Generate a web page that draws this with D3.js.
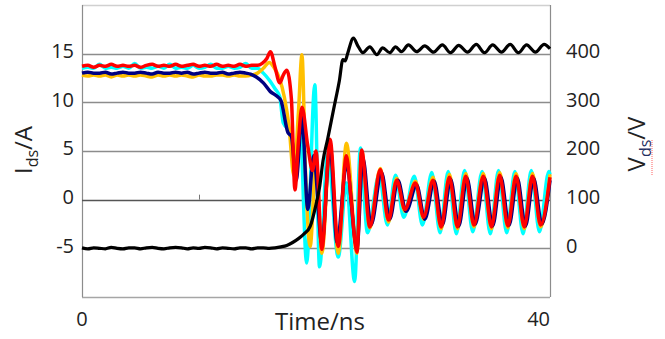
<!DOCTYPE html>
<html>
<head>
<meta charset="utf-8">
<script src="https://cdn.jsdelivr.net/npm/d3@7"></script>
<style>
  body { margin: 0; background: #fff; }
  svg { display: block; font-family: "Open Sans", sans-serif; }
</style>
</head>
<body>
<svg id="chart" width="665" height="339"></svg>
<script>
// axis ticks
const currentTicks = [-5, 0, 5, 10, 15];
const voltageTicks = [0, 100, 200, 300, 400];
const timeLabels = [0, 40];

// drain current traces, [time ns, Ids A]
const redTrace = [[0,13.7],[0.5,13.8],[1,13.6],[1.5,13.8],[2,13.7],[2.5,13.9],[3,13.7],[3.5,13.8],[4,13.7],[4.5,13.8],[5,13.6],[5.5,13.8],[6,13.9],[6.5,13.7],[7,13.8],[7.5,13.7],[8,13.9],[8.5,13.7],[9,13.8],[9.5,13.9],[10,13.7],[10.5,13.8],[11,13.7],[11.5,13.9],[12,13.7],[12.5,13.8],[13,13.7],[13.5,13.9],[14,13.7],[14.5,13.8],
  [15,13.8],[15.4,14.0],[15.8,14.5],[16.1,15.2],[16.5,13.6],[16.9,12.0],[17.2,12.8],[17.5,13.3],[17.9,10.3],[18.2,1.0],[18.5,6.0],[18.8,9.5],[19.3,5.5],[19.7,3.0],[20.0,5.0],[20.5,-5.1],[21.2,6.2],[21.9,-4.8],[22.6,4.5],[23.0,0.0],[23.5,-5.4],[23.9,5.1],[24.6,-2.8],[25.5,3.1],[26.2,-2.1],[26.9,2.0],[27.6,-1.0],[28.5,1.7],[29.2,-1.8],[30.0,2.0],[30.7,-2.8],[31.4,2.3],[32.1,-2.8],[32.8,2.4],[33.5,-2.6],[34.3,2.4],[35.0,-2.8],[35.7,2.5],[36.4,-2.7],[37.1,2.4],[37.8,-2.8],[38.5,2.4],[39.2,-2.6],[40.0,2.3]];

const cyanTrace = [[0,13.5],[0.5,13.6],[1,13.5],[1.5,13.9],[2,13.5],[2.5,13.6],[3,13.5],[3.5,13.7],[4,13.5],[4.5,14.0],[5,13.5],[5.5,13.6],[6,13.5],[6.5,13.7],[7,13.5],[7.5,13.9],[8,13.5],[8.5,13.6],[9,13.5],[9.5,13.8],[10,13.5],[10.5,13.6],[11,13.9],[11.5,13.5],[12,13.5],[12.5,13.7],[13,13.5],[13.5,13.6],[14,14.0],[14.5,13.5],
  [15.0,13.5],[15.5,13.0],[16.0,12.3],[16.5,11.4],[16.9,10.6],[17.2,7.9],[17.8,7.0],[18.3,4.0],[18.6,8.5],[19.2,-6.5],[19.9,11.8],[20.3,-6.9],[21.0,4.8],[21.9,-5.9],[22.6,1.7],[23.3,-8.4],[23.8,5.3],[24.4,-3.4],[25.4,2.6],[26.1,-2.6],[26.8,2.5],[27.5,-1.8],[28.4,2.4],[29.1,-2.6],[29.9,2.8],[30.6,-3.4],[31.3,2.9],[32.0,-3.5],[32.7,3.0],[33.4,-3.3],[34.2,2.9],[34.9,-3.5],[35.6,3.0],[36.3,-3.4],[37.0,2.9],[37.7,-3.5],[38.4,3.0],[39.1,-3.3],[39.9,2.9],[40,2.6]];

const yellowTrace = [[0,12.8],[0.5,12.7],[1,12.8],[1.5,12.7],[2,12.8],[2.5,12.6],[3,12.8],[3.5,12.7],[4,12.8],[4.5,12.7],[5,12.8],[5.5,12.7],[6,12.6],[6.5,12.8],[7,12.7],[7.5,12.8],[8,12.7],[8.5,12.8],[9,12.7],[9.5,12.6],[10,12.8],[10.5,12.7],[11,12.7],[11.5,12.8],[12,12.8],[12.5,12.7],[13,12.8],[13.5,12.7],[14,12.7],[14.5,12.8],
  [15.0,13.0],[15.5,13.5],[16.0,14.1],[16.4,13.6],[16.9,12.4],[17.3,10.5],[17.7,7.5],[18.1,2.5],[18.5,9.0],[18.8,14.9],[19.1,3.0],[19.5,-4.8],[20.0,4.0],[20.5,-5.5],[21.2,5.5],[21.9,-5.5],[22.6,5.8],[23.5,-5.5],[23.9,5.0],[24.6,-2.9],[25.5,3.2],[26.2,-2.3],[26.9,2.2],[27.6,-1.2],[28.5,1.9],[29.2,-2.0],[30.0,2.3],[30.7,-3.0],[31.4,2.6],[32.1,-3.0],[32.8,2.7],[33.5,-2.8],[34.3,2.7],[35.0,-3.0],[35.7,2.8],[36.4,-2.9],[37.1,2.7],[37.8,-3.0],[38.5,2.7],[39.2,-2.8],[40.0,2.6]];

const navyTrace = [[0,13.0],[0.5,13.1],[1,13.0],[1.5,13.0],[2,13.1],[2.5,12.9],[3,13.0],[3.5,13.1],[4,13.0],[4.5,13.0],[5,13.1],[5.5,13.0],[6,12.9],[6.5,13.1],[7,13.0],[7.5,13.0],[8,13.1],[8.5,13.0],[9,13.1],[9.5,12.9],[10,13.0],[10.5,13.1],[11,13.0],[11.5,13.0],[12,13.1],[12.5,12.9],[13,13.0],[13.5,13.1],[14,13.0],
  [14.4,12.9],[14.9,12.6],[15.5,12.0],[16.1,11.1],[16.7,10.6],[17.0,10.2],[17.6,6.9],[17.9,6.5],[18.3,2.0],[18.8,8.5],[19.3,-1.0],[19.8,4.5],[20.5,-4.5],[21.2,5.5],[21.8,-4.4],[22.6,3.5],[23.5,-5.0],[24.0,4.3],[24.7,-2.6],[25.6,2.8],[26.3,-2.0],[27.0,2.0],[27.7,-1.2],[28.6,1.5],[29.3,-2.0],[30.1,1.9],[30.8,-2.6],[31.5,2.1],[32.2,-2.7],[32.9,2.2],[33.6,-2.5],[34.4,2.2],[35.1,-2.7],[35.8,2.3],[36.5,-2.6],[37.2,2.2],[37.9,-2.7],[38.6,2.2],[39.3,-2.5],[40.0,2.0]];

// drain-source voltage, [time ns, Vds V]
const voltageTrace = [[0,1],[0.5,-1],[1,1],[1.5,0],[2,-1],[2.5,2],[3,0],[3.5,-1],[4,1],[4.5,1],[5,-1],[5.5,1],[6,2],[6.5,0],[7,-1],[7.5,1],[8,2],[8.5,1],[9,-1],[9.5,1],[10,0],[10.5,2],[11,1],[11.5,-1],[12,1],[12.5,0],[13,-1],[13.5,1],[14,1],[14.5,-1],[15,1],[15.5,1],[16,0],[16.5,1],
  [17,3],[17.5,6],[18,12],[18.5,20],[19,30],[19.5,45],[20,90],[20.3,125],[20.6,180],[21,225],[21.5,285],[22,345],[22.3,388],[22.5,385],[22.7,400],[23.2,432],[23.6,415],[24,402],[24.6,414],[25.2,398],[25.7,412],[26.3,402],[26.8,414],[27.3,404],[27.9,418],[28.6,404],[29.3,416],[30.05,403],[30.8,418],[31.5,402],[32.2,417],[32.95,403],[33.7,419],[34.4,402],[35.1,418],[35.85,403],[36.6,419],[37.3,402],[38.0,418],[38.75,403],[39.5,419],[40,410]];

const plot = { left: 82, right: 550, top: 5, bottom: 297 };

const svg = d3.select("#chart");

const x = d3.scaleLinear().domain([0, 40]).range([plot.left, plot.right]);
const yI = d3.scaleLinear().domain([-10, 20]).range([plot.bottom, plot.top]);
const yV = d3.scaleLinear().domain([-100, 500]).range([plot.bottom, plot.top]);

// frame
svg.append("line").attr("x1", plot.left).attr("x2", plot.right).attr("y1", plot.top + 0.5).attr("y2", plot.top + 0.5)
  .attr("stroke", "#d0d0d0").attr("stroke-width", 1.5);
svg.append("line").attr("x1", plot.left).attr("x2", plot.right).attr("y1", plot.bottom + 0.5).attr("y2", plot.bottom + 0.5)
  .attr("stroke", "#a6a6a6").attr("stroke-width", 1.5);
svg.append("line").attr("x1", plot.left + 0.5).attr("x2", plot.left + 0.5).attr("y1", plot.top).attr("y2", plot.bottom)
  .attr("stroke", "#8c8c8c").attr("stroke-width", 1.2);
svg.append("line").attr("x1", plot.right + 0.5).attr("x2", plot.right + 0.5).attr("y1", plot.top).attr("y2", plot.bottom)
  .attr("stroke", "#8c8c8c").attr("stroke-width", 1.2);

// grid
svg.append("g").selectAll("line").data(currentTicks).join("line")
  .attr("x1", plot.left).attr("x2", plot.right)
  .attr("y1", d => Math.round(yI(d)) + 0.5).attr("y2", d => Math.round(yI(d)) + 0.5)
  .attr("stroke", d => d === 0 ? "#555" : "#8c8c8c").attr("stroke-width", 1.3);

// the lone tick on the zero line
svg.append("line").attr("x1", x(10) + 0.5).attr("x2", x(10) + 0.5)
  .attr("y1", yI(0) - 5).attr("y2", yI(0)).attr("stroke", "#777");

// left tick labels
svg.append("g").selectAll("text").data(currentTicks).join("text")
  .attr("x", 74).attr("y", d => yI(d) - 1)
  .attr("text-anchor", "end").attr("dominant-baseline", "middle")
  .attr("font-size", 20).attr("fill", "#222")
  .text(d => d);

// right tick labels
svg.append("g").selectAll("text").data(voltageTicks).join("text")
  .attr("x", 566).attr("y", d => yV(d) - 1)
  .attr("text-anchor", "start").attr("dominant-baseline", "middle")
  .attr("font-size", 20).attr("fill", "#222")
  .text(d => d);

// time labels
svg.append("g").selectAll("text").data(timeLabels).join("text")
  .attr("x", d => x(d))
  .attr("y", 321)
  .attr("text-anchor", d => d === 0 ? "middle" : "end")
  .attr("dominant-baseline", "middle")
  .attr("font-size", 20).attr("fill", "#222")
  .text(d => d);

svg.append("text").attr("x", 320).attr("y", 330)
  .attr("text-anchor", "middle").attr("font-size", 24).attr("fill", "#222")
  .text("Time/ns");

// axis titles
const leftTitle = svg.append("text").attr("transform", "translate(32,150) rotate(-90)")
  .attr("text-anchor", "middle").attr("font-size", 24).attr("fill", "#222");
leftTitle.append("tspan").text("I");
leftTitle.append("tspan").attr("dy", 6).attr("font-size", 16).text("ds");
leftTitle.append("tspan").attr("dy", -6).text("/A");

const rightTitle = svg.append("text").attr("transform", "translate(645,144) rotate(-90)")
  .attr("text-anchor", "middle").attr("font-size", 24).attr("fill", "#222");
rightTitle.append("tspan").text("V");
rightTitle.append("tspan").attr("dy", 6).attr("font-size", 16).attr("fill", "#1f2f60").text("ds");
rightTitle.append("tspan").attr("dy", -6).text("/V");
// spell-check squiggle under the subscript
svg.append("line").attr("x1", 652).attr("x2", 652).attr("y1", 140).attr("y2", 175)
  .attr("stroke", "#ff6060").attr("stroke-width", 1).attr("stroke-dasharray", "1,1");

// traces
const lineI = d3.line().x(d => x(d[0])).y(d => yI(d[1])).curve(d3.curveMonotoneX);
const lineV = d3.line().x(d => x(d[0])).y(d => yV(d[1])).curve(d3.curveMonotoneX);

const currentSeries = [
  { data: cyanTrace, color: "#00ffff" },
  { data: yellowTrace, color: "#ffc000" },
  { data: navyTrace, color: "#000080" },
  { data: redTrace, color: "#ff0000" }
];

svg.append("g").selectAll("path").data(currentSeries).join("path")
  .attr("d", d => lineI(d.data))
  .attr("fill", "none")
  .attr("stroke", d => d.color)
  .attr("stroke-width", 3.5)
  .attr("stroke-linejoin", "round");

svg.append("path")
  .attr("d", lineV(voltageTrace))
  .attr("fill", "none")
  .attr("stroke", "#000")
  .attr("stroke-width", 3.2)
  .attr("stroke-linejoin", "round");
</script>
</body>
</html>
